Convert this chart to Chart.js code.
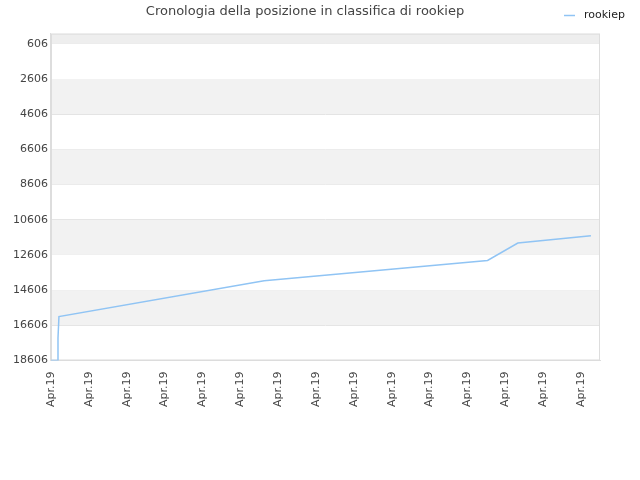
<!DOCTYPE html><html><head><meta charset="utf-8">
<script src="https://cdn.jsdelivr.net/npm/chart.js@4"></script>
<style>body{margin:0;background:#fff}#w{width:640px;height:480px}</style></head><body><div id="w"><canvas id="c"></canvas></div>
<script>
const xPos=[0,0.185,0.185,0.21,5.63,11.53,12.33,14.26];
const ranks=[18606,18606,17330,16110,14080,12920,11930,11520];
const yTicks=[606,2606,4606,6606,8606,10606,12606,14606,16606,18606];
const xLabels=["Apr.19","Apr.19","Apr.19","Apr.19","Apr.19","Apr.19","Apr.19","Apr.19","Apr.19","Apr.19","Apr.19","Apr.19","Apr.19","Apr.19","Apr.19"];
const seriesName='rookiep';
const bands={id:'bands',beforeDatasetsDraw(ch){const {ctx,chartArea:a,scales:{y}}=ch;ctx.save();
 ctx.fillStyle='#eeeeee';ctx.fillRect(a.left,a.top,a.right-a.left,y.getPixelForValue(yTicks[0])-a.top);
 for(let i=0;i<yTicks.length-1;i++){if(i%2==1){const t=y.getPixelForValue(yTicks[i]),b=y.getPixelForValue(yTicks[i+1]);ctx.fillStyle='#f2f2f2';ctx.fillRect(a.left,t,a.right-a.left,b-t);}}
 ctx.strokeStyle='#dddddd';ctx.lineWidth=1;ctx.strokeRect(a.left+0.5,a.top+0.5,a.right-a.left-1,a.bottom-a.top-1);
 ctx.restore();},
 afterDraw(ch){const ctx=ch.ctx;ctx.save();ctx.strokeStyle='#90c4f4';ctx.lineWidth=1.5;ctx.beginPath();ctx.moveTo(564,15.5);ctx.lineTo(575,15.5);ctx.stroke();
 ctx.fillStyle='#222';ctx.font='11px "DejaVu Sans"';ctx.textBaseline='middle';ctx.fillText(seriesName,584,15);ctx.restore();}};
new Chart(document.getElementById('c'),{type:'line',
data:{datasets:[{label:seriesName,data:xPos.map((x,i)=>({x,y:ranks[i]})),borderColor:'#90c4f4',backgroundColor:'#90c4f4',borderWidth:1.5,pointRadius:0,tension:0}]},
options:{responsive:true,maintainAspectRatio:false,animation:false,
layout:{padding:{left:10,right:40,top:0,bottom:70}},
plugins:{title:{display:true,text:'Cronologia della posizione in classifica di rookiep',color:'#444',font:{family:'DejaVu Sans',size:13,weight:'normal'},padding:{top:4,bottom:14}},
legend:{display:false}},
scales:{x:{type:'linear',min:0,max:14.5,afterBuildTicks(s){s.ticks=xLabels.map((_,i)=>({value:i}));},
 ticks:{callback:(v)=>xLabels[v]||'',minRotation:90,maxRotation:90,color:'#444',font:{family:'DejaVu Sans',size:11}},grid:{display:false},border:{color:'#ddd'}},
y:{reverse:true,min:25,max:18606,afterBuildTicks(s){s.ticks=yTicks.map(v=>({value:v}));},
 ticks:{callback:(v)=>String(v),color:'#444',font:{family:'DejaVu Sans',size:11}},grid:{color:'#e0e0e0',drawTicks:false},border:{color:'#ddd'}}}},
plugins:[bands]});
</script></body></html>
